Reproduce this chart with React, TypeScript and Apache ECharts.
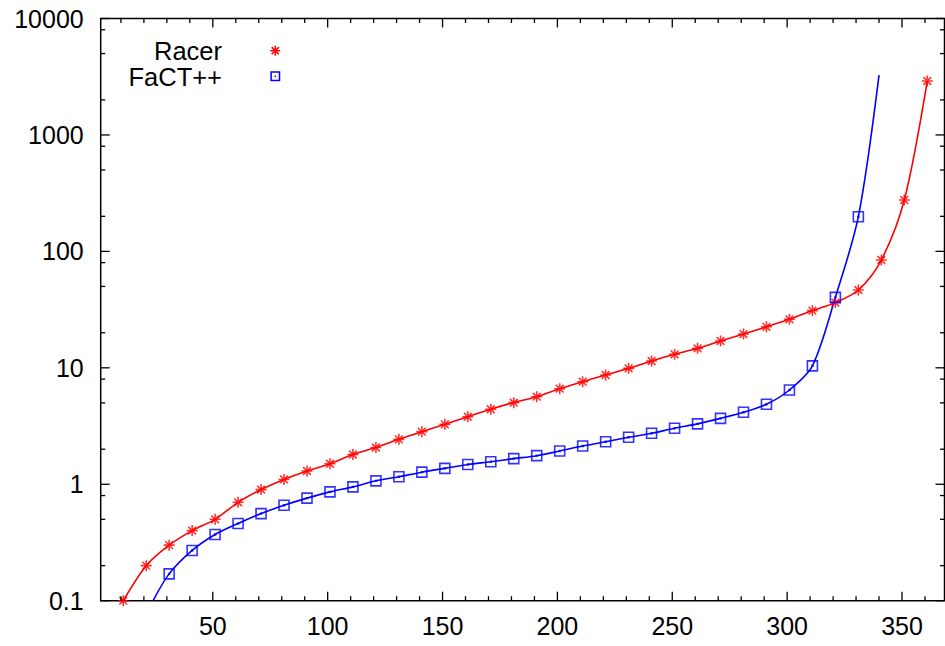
import React, { useEffect, useRef } from "react";
import * as echarts from "echarts";

// ---- data ----
const racerX = [11, 21, 31, 41, 51, 61, 71, 81, 91, 101, 111, 121, 131, 141, 151, 161, 171, 181, 191, 201, 211, 221, 231, 241, 251, 261, 271, 281, 291, 301, 311, 321, 331, 341, 351, 361];
const racerY = [0.1, 0.2, 0.3, 0.4, 0.5, 0.7, 0.9, 1.1, 1.3, 1.5, 1.8, 2.07, 2.43, 2.83, 3.27, 3.8, 4.41, 5.02, 5.65, 6.62, 7.6, 8.68, 9.9, 11.45, 13.06, 14.7, 17.0, 19.5, 22.5, 26.1, 31, 36.3, 46.6, 84.3, 276, 2904];

const factX = [31, 41, 51, 61, 71, 81, 91, 101, 111, 121, 131, 141, 151, 161, 171, 181, 191, 201, 211, 221, 231, 241, 251, 261, 271, 281, 291, 301, 311, 321, 331];
const factY = [0.17, 0.27, 0.37, 0.46, 0.56, 0.66, 0.76, 0.86, 0.95, 1.07, 1.16, 1.27, 1.37, 1.48, 1.56, 1.66, 1.76, 1.93, 2.13, 2.32, 2.53, 2.74, 3.03, 3.3, 3.68, 4.15, 4.86, 6.45, 10.4, 40.3, 198.6];
const factLineStart = [24, 0.1];
const factLineEnd = [340, 3270];

const xMin = 1.2;
const xMax = 368.5;
const yMin = 0.1;
const yMax = 10000;

const xMajorTicks = [50, 100, 150, 200, 250, 300, 350];
const xMinorTicks = [10, 20, 30, 40, 60, 70, 80, 90, 110, 120, 130, 140, 160, 170, 180, 190, 210, 220, 230, 240, 260, 270, 280, 290, 310, 320, 330, 340, 360];
const yMajorTicks = [0.1, 1, 10, 100, 1000, 10000];
const yMinorTicks = [0.2, 0.5, 0.8, 2, 5, 8, 20, 50, 80, 200, 500, 800, 2000, 5000, 8000];

const FONT = "Liberation Sans";
const RED = "#ff0000";
const BLUE = "#0000ff";

const asteriskPath = "path://M5,0L5,10M0,5L10,5M1.5,1.5L8.5,8.5M1.5,8.5L8.5,1.5";
const squarePath = "path://M0,0L10,0L10,10L0,10ZM4.6,4.6L5.4,4.6L5.4,5.4L4.6,5.4Z";

function zip(xs: number[], ys: number[]) {
  return xs.map((x, i) => [x, ys[i]]);
}

export default function App() {
  const ref = useRef<HTMLDivElement>(null);

  useEffect(() => {
    if (!ref.current) return;
    const chart = echarts.init(ref.current, null, { renderer: "svg" });

    const racerPts = zip(racerX, racerY);
    const factPts = zip(factX, factY);
    const factLine = [factLineStart, ...factPts, factLineEnd];

    const tickStyle = { stroke: "#000", lineWidth: 1.3 };

    const option: any = {
      animation: false,
      backgroundColor: "#ffffff",
      grid: {
        left: 100.7,
        right: 0.5,
        top: 18.5,
        bottom: 45.3,
        show: true,
        borderColor: "#000",
        borderWidth: 1.5,
        backgroundColor: "transparent",
      },
      xAxis: {
        type: "value",
        min: xMin,
        max: xMax,
        axisLine: { show: false },
        axisTick: { show: false },
        splitLine: { show: false },
        axisLabel: {
          customValues: xMajorTicks,
          fontFamily: FONT,
          fontSize: 25,
          color: "#000",
          margin: 13,
        },
      },
      yAxis: {
        type: "log",
        logBase: 10,
        min: yMin,
        max: yMax,
        axisLine: { show: false },
        axisTick: { show: false },
        splitLine: { show: false },
        minorTick: { show: false },
        axisLabel: {
          fontFamily: FONT,
          fontSize: 25,
          color: "#000",
          margin: 17,
          formatter: (v: number) => String(parseFloat(Number(v).toPrecision(6))),
        },
      },
      graphic: [
        {
          type: "text",
          x: 222,
          y: 51.3,
          style: {
            text: "Racer",
            font: `25.5px "${FONT}"`,
            fill: "#000",
            align: "right",
            verticalAlign: "middle",
          },
        },
        {
          type: "text",
          x: 222,
          y: 76.7,
          style: {
            text: "FaCT++",
            font: `25.5px "${FONT}"`,
            fill: "#000",
            align: "right",
            verticalAlign: "middle",
          },
        },
        {
          type: "group",
          x: 275.3,
          y: 50.7,
          children: [
            { type: "line", shape: { x1: 0, y1: -5, x2: 0, y2: 5 }, style: { stroke: RED, lineWidth: 1.5 } },
            { type: "line", shape: { x1: -5, y1: 0, x2: 5, y2: 0 }, style: { stroke: RED, lineWidth: 1.5 } },
            { type: "line", shape: { x1: -3.6, y1: -3.6, x2: 3.6, y2: 3.6 }, style: { stroke: RED, lineWidth: 1.5 } },
            { type: "line", shape: { x1: -3.6, y1: 3.6, x2: 3.6, y2: -3.6 }, style: { stroke: RED, lineWidth: 1.5 } },
          ],
        },
        {
          type: "group",
          x: 275.3,
          y: 76.3,
          children: [
            { type: "rect", shape: { x: -4.2, y: -4.2, width: 8.4, height: 8.4 }, style: { fill: "none", stroke: BLUE, lineWidth: 1.5 } },
            { type: "rect", shape: { x: -0.5, y: -0.5, width: 1, height: 1 }, style: { fill: BLUE, stroke: BLUE, lineWidth: 0.5 } },
          ],
        },
      ],
      series: [
        {
          type: "line",
          name: "Racer line",
          data: racerPts,
          smooth: 0.3,
          showSymbol: false,
          symbol: "none",
          lineStyle: { color: RED, width: 1.6 },
          silent: true,
          clip: true,
          z: 2,
        },
        {
          type: "line",
          name: "FaCT++ line",
          data: factLine,
          smooth: 0.3,
          showSymbol: false,
          symbol: "none",
          lineStyle: { color: BLUE, width: 1.6 },
          silent: true,
          clip: true,
          z: 2,
        },
        {
          type: "scatter",
          name: "Racer",
          data: racerPts,
          symbol: asteriskPath,
          symbolSize: 11,
          itemStyle: { color: "rgba(0,0,0,0)", borderColor: RED, borderWidth: 1.6 },
          clip: false,
          z: 3,
        },
        {
          type: "scatter",
          name: "FaCT++",
          data: factPts,
          symbol: squarePath,
          symbolSize: 10,
          itemStyle: { color: "rgba(0,0,0,0)", borderColor: BLUE, borderWidth: 1.6 },
          clip: false,
          z: 3,
        },
        {
          type: "custom",
          name: "ticks",
          data: [[xMin, yMin]],
          silent: true,
          clip: false,
          z: 4,
          renderItem: (_params: any, api: any) => {
            const children: any[] = [];
            const bl = api.coord([xMin, yMin]);
            const tr = api.coord([xMax, yMax]);
            const bottom = bl[1];
            const top = tr[1];
            const left = bl[0];
            const right = tr[0];
            const addX = (v: number, len: number) => {
              const px = api.coord([v, yMin])[0];
              children.push({ type: "line", shape: { x1: px, y1: bottom, x2: px, y2: bottom - len }, style: tickStyle });
              children.push({ type: "line", shape: { x1: px, y1: top, x2: px, y2: top + len }, style: tickStyle });
            };
            const addY = (v: number, len: number) => {
              const py = api.coord([xMin, v])[1];
              children.push({ type: "line", shape: { x1: left, y1: py, x2: left + len, y2: py }, style: tickStyle });
              children.push({ type: "line", shape: { x1: right, y1: py, x2: right - len, y2: py }, style: tickStyle });
            };
            xMajorTicks.forEach((v) => addX(v, 9));
            xMinorTicks.forEach((v) => addX(v, 4.5));
            yMajorTicks.forEach((v) => addY(v, 9));
            yMinorTicks.forEach((v) => addY(v, 4.5));
            return { type: "group", children };
          },
        },
      ],
    };

    chart.setOption(option);
    return () => chart.dispose();
  }, []);

  return (
    <div
      ref={ref}
      style={{ position: "absolute", left: 0, top: 0, width: 945, height: 646, background: "#fff" }}
    />
  );
}
